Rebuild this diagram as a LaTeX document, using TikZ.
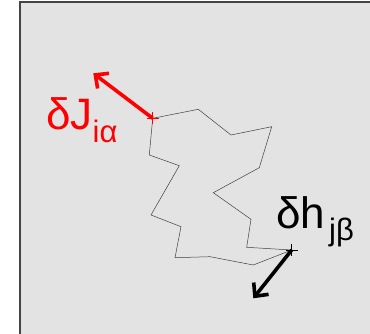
\documentclass[tikz,border=0pt]{standalone}
\usepackage{fontspec}
\setmainfont{Liberation Sans}
\usepackage{tikz}
\usetikzlibrary{arrows.meta}
\usepackage{xcolor}
\definecolor{panel-gray}{HTML}{E3E3E3}
\definecolor{frame-gray}{HTML}{444444}
\definecolor{kick-red}{HTML}{FF0000}
\newcommand{\sitemark}[2]{%  \sitemark{coord}{color}
  \draw[#2, line width=0.6pt] ($(#1)+(-6,0)$) -- ($(#1)+(6,0)$)
        ($(#1)+(0,-6)$) -- ($(#1)+(0,6)$);}
\usetikzlibrary{calc}

\begin{document}
\begin{tikzpicture}[x=1pt, y=-1pt,
    loopline/.style={draw=black!75, line width=0.5pt},
    kick/.style={line width=3.6pt,
      -{Straight Barb[length=10pt, width=19pt, line width=3.6pt]}},
    biglabel/.style={font=\fontsize{44}{44}\selectfont, anchor=base west,
      inner sep=0pt}]
  \useasboundingbox (0,0) rectangle (370,334);
  % ── panel ──
  \fill[panel-gray] (20,2) rectangle (370,334);
  \draw[frame-gray, line width=1.2pt] (20,334) -- (20,2) -- (370,2);

  % ── closed chain ──
  \coordinate (siteI) at (152.7,118.3);
  \coordinate (siteJ) at (291.7,250);
  \draw[loopline] (siteI) -- (198.3,109.3) -- (231,135) -- (271.7,126.7)
        -- (259.3,167.7) -- (213.3,192.7) -- (251,219.3) -- (246.7,247.3)
        -- (siteJ) -- (253.3,265) -- (210,256.7) -- (175,257.7)
        -- (181,226.7) -- (151,215) -- (179.3,165.7) -- (149.3,155)
        -- cycle;
  \sitemark{siteI}{kick-red}
  \sitemark{siteJ}{black}

  % ── perturbations ──
  \coordinate (tipI) at (93.3,73.3);
  \coordinate (tipJ) at (253.3,298.3);
  \draw[kick, kick-red] (siteI) -- (tipI);
  \draw[kick, black] (siteJ) -- (tipJ);

  \node[biglabel, text=kick-red] (dJ) at (46,130)
        {δJ\raisebox{-13pt}{\fontsize{31}{31}\selectfont iα}};
  \node[biglabel] (dh) at (276,229)
        {δh\hspace{4pt}\raisebox{-12pt}{\fontsize{31}{31}\selectfont jβ}};
\end{tikzpicture}
\end{document}
